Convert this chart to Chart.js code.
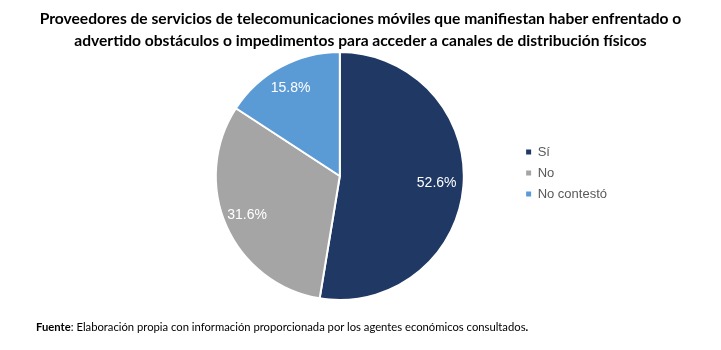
<!DOCTYPE html>
<html>
<head>
<meta charset="utf-8">
<script src="https://cdn.jsdelivr.net/npm/chart.js@4/dist/chart.umd.min.js"></script>
<style>
  html, body { margin: 0; padding: 0; background: #fff; }
  #wrap { position: relative; width: 721px; height: 350px; overflow: hidden; }
  #c { position: absolute; left: 0; top: 0; }
  #title { position: absolute; left: 0; top: 7px; width: 721px; text-align: center;
           font-family: Lato, sans-serif; font-weight: 700; font-size: 15.6px; line-height: 22px; color: #000; }
  #source { position: absolute; left: 36px; top: 320px; font-family: Lato, sans-serif;
            font-size: 11.25px; color: #000; white-space: nowrap; }
</style>
</head>
<body>
<div id="wrap">
  <canvas id="c" width="721" height="350"></canvas>
  <div id="title">Proveedores de servicios de telecomunicaciones móviles que manifiestan haber enfrentado o<br>advertido obstáculos o impedimentos para acceder a canales de distribución físicos</div>
  <div id="source"><b>Fuente</b>: Elaboración propia con información proporcionada por los agentes económicos consultados<b>.</b></div>
</div>
<script>
const categories = ['Sí', 'No', 'No contestó'];
const shares = [52.6, 31.6, 15.8];
const sliceColors = ['#1F3864', '#A5A5A5', '#5B9BD5'];

const sliceLabels = {
  id: 'sliceLabels',
  afterDatasetsDraw(chart) {
    const ctx = chart.ctx;
    const meta = chart.getDatasetMeta(0);
    ctx.save();
    ctx.fillStyle = '#ffffff';
    ctx.font = '14px "Liberation Sans", Arial, sans-serif';
    ctx.textAlign = 'center';
    ctx.textBaseline = 'middle';
    meta.data.forEach((arc, i) => {
      const p = arc.getProps(['x', 'y', 'startAngle', 'endAngle', 'outerRadius'], true);
      const mid = (p.startAngle + p.endAngle) / 2;
      const r = p.outerRadius * 0.8;
      ctx.fillText(shares[i].toFixed(1) + '%', p.x + Math.cos(mid) * r - 2, p.y + Math.sin(mid) * r - 1);
    });
    ctx.restore();
  }
};

// nudge the legend block slightly upward, as in the reference
const legendNudge = {
  id: 'legendNudge',
  afterLayout(chart) {
    const lg = chart.legend;
    if (lg) { lg.top -= 3; lg.bottom -= 3; }
  }
};

new Chart(document.getElementById('c'), {
  type: 'pie',
  data: {
    labels: categories,
    datasets: [{
      data: shares,
      backgroundColor: sliceColors,
      borderColor: '#ffffff',
      borderWidth: 2
    }]
  },
  options: {
    responsive: false,
    animation: false,
    layout: { padding: { left: 161.5, right: 104, top: 51, bottom: 49 } },
    plugins: {
      title: { display: false },
      tooltip: { enabled: false },
      legend: {
        position: 'right',
        align: 'center',
        labels: {
          boxWidth: 5,
          boxHeight: 5,
          padding: 8,
          color: '#595959',
          font: { family: '"Liberation Sans", Arial, sans-serif', size: 13 },
          generateLabels(chart) {
            const items = Chart.controllers.pie.overrides.plugins.legend.labels.generateLabels(chart);
            items.forEach(it => { it.lineWidth = 0; it.strokeStyle = 'rgba(0,0,0,0)'; });
            return items;
          }
        }
      }
    }
  },
  plugins: [sliceLabels, legendNudge]
});
</script>
</body>
</html>
